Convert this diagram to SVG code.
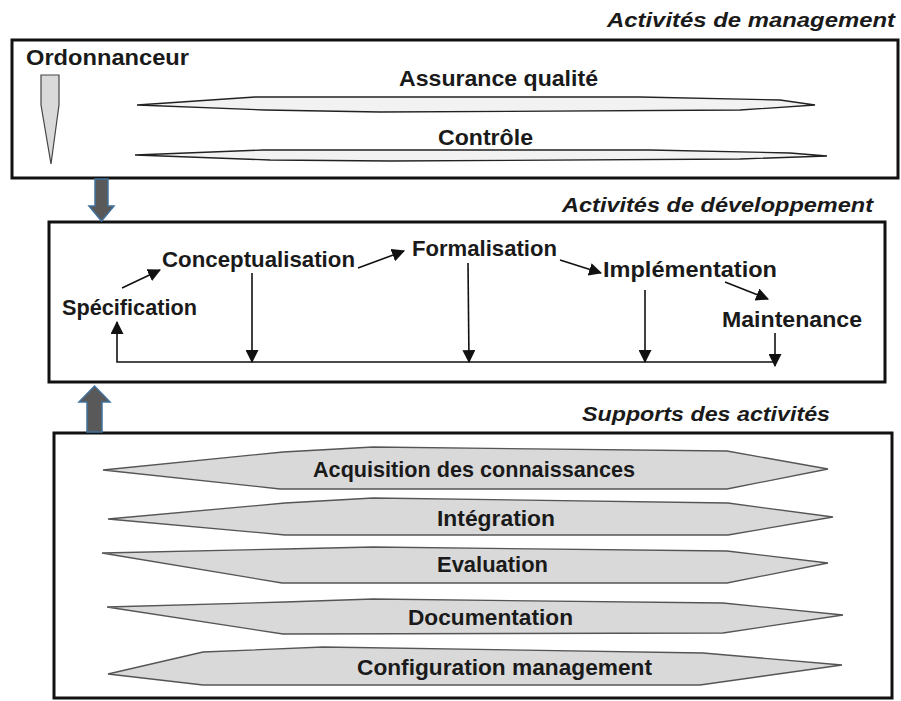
<svg xmlns="http://www.w3.org/2000/svg" width="901" height="701" viewBox="0 0 901 701">
<style>
.box{fill:#fff;stroke:#111;stroke-width:3}
.t{font-family:"Liberation Sans",Arial,sans-serif;font-weight:bold;font-size:22px;fill:#1a1a1a}
.ti{font-family:"Liberation Sans",Arial,sans-serif;font-weight:bold;font-style:italic;font-size:21px;fill:#1a1a1a}
.lens{fill:#f2f2f2;stroke:#222;stroke-width:1.3}
.bar{fill:#d9d9d9;stroke:#555;stroke-width:1.3}
.big{fill:#595959;stroke:#41719c;stroke-width:1.5}
.c{fill:none;stroke:#111;stroke-width:1.6}
</style>
<defs>
<marker id="ah" viewBox="0 0 12 12" refX="11" refY="6" markerWidth="13" markerHeight="13" markerUnits="userSpaceOnUse" orient="auto">
<path d="M0,0 L12,6 L0,12 z" fill="#111"/>
</marker>
</defs>

<g id="management">
<rect class="box" x="12" y="40" width="886" height="138"/>
<text class="ti" x="607" y="27" textLength="288" lengthAdjust="spacingAndGlyphs">Activités de management</text>
<text class="t" x="26" y="65" textLength="163" lengthAdjust="spacingAndGlyphs">Ordonnanceur</text>
<polygon points="41,75 59,75 59,105 51,164 41,105" fill="#d9d9d9" stroke="#444" stroke-width="1.2"/>
<text class="t" x="399" y="86" textLength="199" lengthAdjust="spacingAndGlyphs">Assurance qualité</text>
<polygon class="lens" points="137,105 255,97 640,97 780,100 815,105 740,110 380,112 265,110"/>
<text class="t" x="438" y="145" textLength="95" lengthAdjust="spacingAndGlyphs">Contrôle</text>
<polygon class="lens" points="135,155 263,150 650,150 790,153 827,156 740,159 390,161 270,160"/>
</g>

<g id="developpement">
<rect class="box" x="49" y="222" width="836" height="160"/>
<text class="ti" x="562" y="212" textLength="311" lengthAdjust="spacingAndGlyphs">Activités de développement</text>
</g>
<g id="specification"><text class="t" x="62" y="315" textLength="135" lengthAdjust="spacingAndGlyphs">Spécification</text></g>
<g id="conceptualisation"><text class="t" x="162" y="267" textLength="193" lengthAdjust="spacingAndGlyphs">Conceptualisation</text></g>
<g id="formalisation"><text class="t" x="412" y="256" textLength="145" lengthAdjust="spacingAndGlyphs">Formalisation</text></g>
<g id="implementation"><text class="t" x="603" y="277" textLength="174" lengthAdjust="spacingAndGlyphs">Implémentation</text></g>
<g id="maintenance"><text class="t" x="722" y="327" textLength="140" lengthAdjust="spacingAndGlyphs">Maintenance</text></g>

<g id="supports">
<rect class="box" x="54" y="433" width="838" height="265"/>
<text class="ti" x="582" y="421" textLength="248" lengthAdjust="spacingAndGlyphs">Supports des activités</text>
</g>
<g id="acquisition">
<polygon class="bar" points="103,470 283,452 373,447 727,451 828,469 727,489 280,489"/>
<text class="t" x="313" y="477" textLength="322" lengthAdjust="spacingAndGlyphs">Acquisition des connaissances</text>
</g>
<g id="integration">
<polygon class="bar" points="108,519 285,503 373,498 728,503 833,517 728,535 285,535"/>
<text class="t" x="437" y="526" textLength="118" lengthAdjust="spacingAndGlyphs">Intégration</text>
</g>
<g id="evaluation">
<polygon class="bar" points="102,553 285,549 373,547 727,551 828,563 727,583 282,583"/>
<text class="t" x="437" y="572" textLength="111" lengthAdjust="spacingAndGlyphs">Evaluation</text>
</g>
<g id="documentation">
<polygon class="bar" points="107,607 285,602 373,599 723,603 843,615 723,633 283,634"/>
<text class="t" x="408" y="625" textLength="165" lengthAdjust="spacingAndGlyphs">Documentation</text>
</g>
<g id="configuration">
<polygon class="bar" points="108,674 203,652 323,647 703,653 842,665 700,685 203,685"/>
<text class="t" x="357" y="675" textLength="295" lengthAdjust="spacingAndGlyphs">Configuration management</text>
</g>

<g id="connectors">
<path class="big" d="M95,179 H108 V206 H114 L101.5,221 L89,206 H95 Z"/>
<path class="big" d="M87,432 V402 H79 L94.5,386 L110,402 H102 V432 Z"/>
<line class="c" x1="122" y1="288" x2="160" y2="270" marker-end="url(#ah)"/>
<line class="c" x1="358" y1="268" x2="404" y2="251" marker-end="url(#ah)"/>
<line class="c" x1="560" y1="260" x2="601" y2="273" marker-end="url(#ah)"/>
<line class="c" x1="725" y1="282" x2="768" y2="299" marker-end="url(#ah)"/>
<line class="c" x1="252" y1="273" x2="252" y2="362" marker-end="url(#ah)"/>
<line class="c" x1="468" y1="263" x2="469" y2="362" marker-end="url(#ah)"/>
<line class="c" x1="645" y1="290" x2="645" y2="362" marker-end="url(#ah)"/>
<line class="c" x1="775" y1="333" x2="775" y2="366" marker-end="url(#ah)"/>
<polyline class="c" points="773,362 117,362 117,322" marker-end="url(#ah)"/>
</g>
</svg>
